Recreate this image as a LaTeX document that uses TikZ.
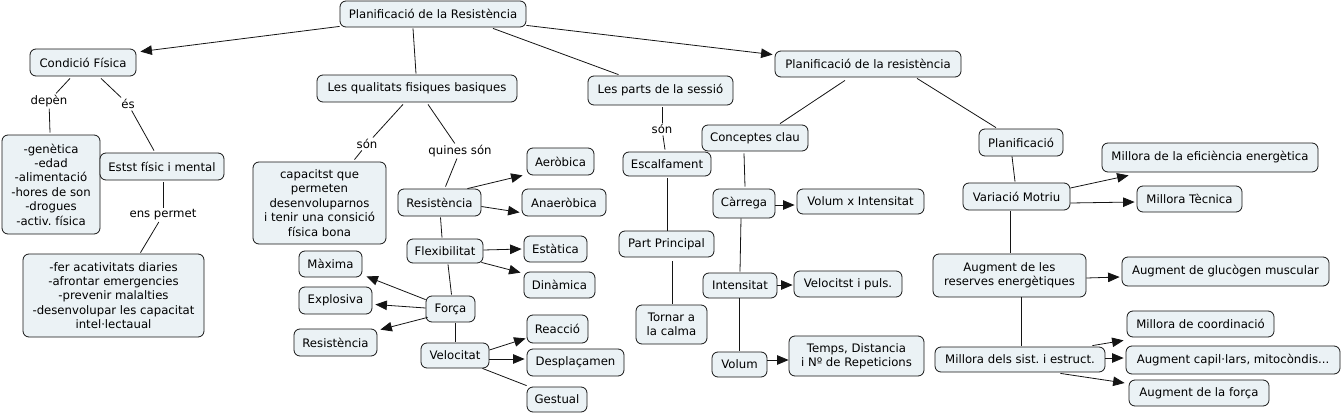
\documentclass[tikz,border=0pt]{standalone}
\usepackage{fontspec}
\setmainfont{DejaVu Sans}
\frenchspacing
\usetikzlibrary{arrows.meta,calc}
\definecolor{boxfill}{RGB}{235,242,245}
\definecolor{ink}{RGB}{20,20,20}
\tikzset{
  cbox/.style={draw=ink, line width=0.8pt, rounded corners=6pt, fill=boxfill, inner sep=0pt, align=center,
    font=\fontsize{11.7}{14.4}\selectfont},
  lbl/.style={inner sep=1.5pt, fill=white, font=\fontsize{11.7}{14.4}\selectfont},
  conn/.style={draw=ink, line width=0.8pt},
  arr/.style={conn, -{Triangle[length=11.5pt,width=9.5pt]}},
  sz/.style 2 args={minimum width=#1pt, minimum height=#2pt}
}
\begin{document}
\begin{tikzpicture}[x=1pt,y=-1pt]
\useasboundingbox (0,0) rectangle (1342,415);
% nodes
\node[cbox,sz={186}{26}] (top) at (433,14) {Planificació de la Resistència};
\node[cbox,sz={106}{27}] (cond) at (83,62.5) {Condició Física};
\node[cbox,sz={200}{27}] (qual) at (417,88.5) {Les qualitats fisiques basiques};
\node[cbox,sz={145}{29}] (parts) at (660.5,90.5) {Les parts de la sessió};
\node[cbox,sz={186}{26}] (plan2) at (868,64) {Planificació de la resistència};
\node[cbox,sz={98}{99}] (gen) at (51,184.5) {-genètica\\-edad\\-alimentació\\-hores de son\\-drogues\\-activ. física};
\node[cbox,sz={124}{27}] (estst) at (162,166.5) {Estst físic i mental};
\node[cbox,sz={181}{83}] (fer) at (113.5,295.5) {-fer acativitats diaries\\-afrontar emergencies\\-prevenir malalties\\-desenvolupar les capacitat\\intel·lectaual};
\node[cbox,sz={133}{82}] (cap) at (319.5,203) {capacitst que\\permeten\\desenvoluparnos\\i tenir una consició\\física bona};
\node[cbox,sz={83}{27}] (res) at (439.5,202.5) {Resistència};
\node[cbox,sz={76}{24}] (flex) at (445,251) {Flexibilitat};
\node[cbox,sz={63}{26}] (max) at (330.5,264) {Màxima};
\node[cbox,sz={73}{27}] (expl) at (335.5,300.5) {Explosiva};
\node[cbox,sz={83}{27}] (resl) at (335.5,342.5) {Resistència};
\node[cbox,sz={49}{26}] (forca) at (450.5,309) {Força};
\node[cbox,sz={68}{25}] (vel) at (455,355.5) {Velocitat};
\node[cbox,sz={67}{27}] (aer) at (560.5,161.5) {Aeròbica};
\node[cbox,sz={84}{27}] (anaer) at (564,202.5) {Anaeròbica};
\node[cbox,sz={63}{26}] (est) at (555.5,249) {Estàtica};
\node[cbox,sz={71}{26}] (din) at (559.5,285) {Dinàmica};
\node[cbox,sz={61}{28}] (reac) at (557.5,329) {Reacció};
\node[cbox,sz={97}{27}] (desp) at (575.5,362.5) {Desplaçamen};
\node[cbox,sz={60}{25}] (gest) at (557,399.5) {Gestual};
\node[cbox,sz={88}{24}] (esc) at (667,164) {Escalfament};
\node[cbox,sz={95}{26}] (pp) at (666.5,244) {Part Principal};
\node[cbox,sz={71}{39}] (torn) at (671.5,324.5) {Tornar a\\la calma};
\node[cbox,sz={106}{26}] (conc) at (755,138) {Conceptes clau};
\node[cbox,sz={62}{29}] (carr) at (744,203.5) {Càrrega};
\node[cbox,sz={127}{25}] (vxi) at (860.5,201.5) {Volum x Intensitat};
\node[cbox,sz={74}{25}] (int) at (740,285.5) {Intensitat};
\node[cbox,sz={108}{26}] (velp) at (848,284) {Velocitst i puls.};
\node[cbox,sz={55}{25}] (vol) at (739.5,364.5) {Volum};
\node[cbox,sz={135}{40}] (temps) at (856.5,356) {Temps, Distancia\\i Nº de Repeticions};
\node[cbox,sz={84}{27}] (plan3) at (1021,142.5) {Planificació};
\node[cbox,sz={107}{27}] (var) at (1016.5,196.5) {Variació Motriu};
\node[cbox,sz={216}{29}] (eff) at (1210,157.5) {Millora de la eficiència energètica};
\node[cbox,sz={105}{26}] (tec) at (1189.5,199) {Millora Tècnica};
\node[cbox,sz={153}{43}] (aug) at (1009.5,275.5) {Augment de les\\reserves energètiques};
\node[cbox,sz={207}{29}] (glu) at (1225.5,271.5) {Augment de glucògen muscular};
\node[cbox,sz={147}{26}] (coord) at (1200.5,324) {Millora de coordinació};
\node[cbox,sz={214}{28}] (capl) at (1233,360) {Augment capil·lars, mitocòndis...};
\node[cbox,sz={140}{26}] (forc2) at (1199,393) {Augment de la força};
\node[cbox,sz={170}{25}] (mil) at (1020,359.5) {Millora dels sist. i estruct.};
% labels
\node[lbl] (depen) at (49,101) {depèn};
\node[lbl] (es) at (128,104) {és};
\node[lbl] (ens) at (163,215) {ens permet};
\node[lbl] (son1) at (367,144) {són};
\node[lbl] (quines) at (460,151) {quines són};
\node[lbl] (son2) at (662,129) {són};
% connectors
\draw[arr] ($(top.south west)+(0,-1)$) -- ($(cond.north east)+(4,3)$);
\draw[conn] ($(top.south)+(-20,1)$) -- ($(qual.north)+(-1,-1)$);
\draw[conn] ($(top.south)+(60,1)$) -- ($(parts.north)+(-42,-1)$);
\draw[arr] ($(top.south east)+(0,-2)$) -- ($(plan2.north west)+(-2,4)$);
\draw[conn] ($(cond.south)+(-13,2)$) -- (depen);
\draw[conn] (depen) -- ($(gen.north)+(-1,-2)$);
\draw[conn] ($(cond.south)+(18,2)$) -- (es);
\draw[conn] (es) -- ($(estst.north)+(-8,-2)$);
\draw[conn] ($(estst.south)+(1,2)$) -- (ens);
\draw[conn] (ens) -- ($(fer.north)+(27,-1)$);
\draw[conn] ($(qual.south)+(-14,2)$) -- (son1);
\draw[conn] (son1) -- ($(cap.north)+(35,-2)$);
\draw[conn] ($(qual.south)+(11,2)$) -- (quines);
\draw[conn] (quines) -- ($(res.north)+(6,-2)$);
\draw[arr] ($(res.north east)+(-14,0)$) -- ($(aer.south west)+(-4,0)$);
\draw[arr] ($(res.east)+(0,4)$) -- ($(anaer.south west)+(-2,-4)$);
\draw[conn] ($(res.south)+(1,1)$) -- ($(flex.north)+(-3,-1)$);
\draw[arr] ($(flex.east)+(0,-1)$) -- ($(est.west)+(-2,0)$);
\draw[arr] ($(flex.south east)+(-2,-1)$) -- ($(din.north west)+(-3,1)$);
\draw[conn] ($(flex.south)+(3,1)$) -- ($(forca.north)+(1,-1)$);
\draw[arr] ($(forca.north west)+(0,4)$) -- ($(max.south east)+(4,-1)$);
\draw[arr] ($(forca.west)+(0,-1)$) -- ($(expl.east)+(3,4)$);
\draw[arr] ($(forca.south west)+(2,-5)$) -- ($(resl.north east)+(3,1)$);
\draw[conn] ($(forca.south)+(4.5,1)$) -- ($(vel.north)+(0,-1)$);
\draw[arr] ($(vel.east)+(0,-5.5)$) -- ($(reac.south west)+(-1,-5)$);
\draw[arr] ($(vel.east)+(0,3.5)$) -- ($(desp.west)+(-2,-3.5)$);
\draw[conn] ($(vel.south east)+(-7,0)$) -- ($(gest.north west)+(0,-1)$);
\draw[conn] ($(parts.south)+(1.5,2)$) -- (son2);
\draw[conn] (son2) -- ($(esc.north)+(-2,-2)$);
\draw[conn] ($(esc.south)+(0,2)$) -- ($(pp.north)+(0.5,0)$);
\draw[conn] ($(pp.south)+(5.5,4)$) -- ($(torn.north)+(0.5,-1)$);
\draw[conn] ($(plan2.south)+(-23,3)$) -- ($(conc.north)+(25,-1)$);
\draw[conn] ($(plan2.south)+(49,1)$) -- ($(plan3.north)+(-25,-1)$);
\draw[conn] ($(conc.south)+(-11,2)$) -- ($(carr.north)+(1,-2)$);
\draw[arr] ($(carr.east)+(0,1.5)$) -- ($(vxi.west)+(-2,3.5)$);
\draw[conn] ($(carr.south)+(-3,0)$) -- ($(int.north)+(0,-1)$);
\draw[arr] ($(int.east)+(0,-0.5)$) -- ($(velp.west)+(-1,1)$);
\draw[conn] ($(int.south)+(-1,0)$) -- ($(vol.north)+(-0.5,-1)$);
\draw[arr] ($(vol.east)+(0,-4.5)$) -- ($(temps.west)+(0,4)$);
\draw[conn] ($(plan3.south)+(-9,0)$) -- ($(var.north)+(-1.5,-1)$);
\draw[arr] ($(var.east)+(0,-8.5)$) -- ($(eff.south west)+(27,3)$);
\draw[arr] ($(var.east)+(0,6.5)$) -- ($(tec.west)+(-2,3)$);
\draw[conn] ($(var.south)+(-6.5,1)$) -- ($(aug.north)+(0.5,-1)$);
\draw[arr] ($(aug.east)+(0,2.5)$) -- ($(glu.west)+(-2,5.5)$);
\draw[conn] ($(aug.south)+(11.5,0)$) -- ($(mil.north)+(1,-1)$);
\draw[arr] ($(mil.north east)+(-13,-1)$) -- ($(coord.south west)+(-3,3)$);
\draw[arr] ($(mil.east)+(0,-1.5)$) -- ($(capl.west)+(-2,-2)$);
\draw[arr] ($(mil.south east)+(-45,1)$) -- ($(forc2.west)+(-4,-10)$);
\end{tikzpicture}
\end{document}
